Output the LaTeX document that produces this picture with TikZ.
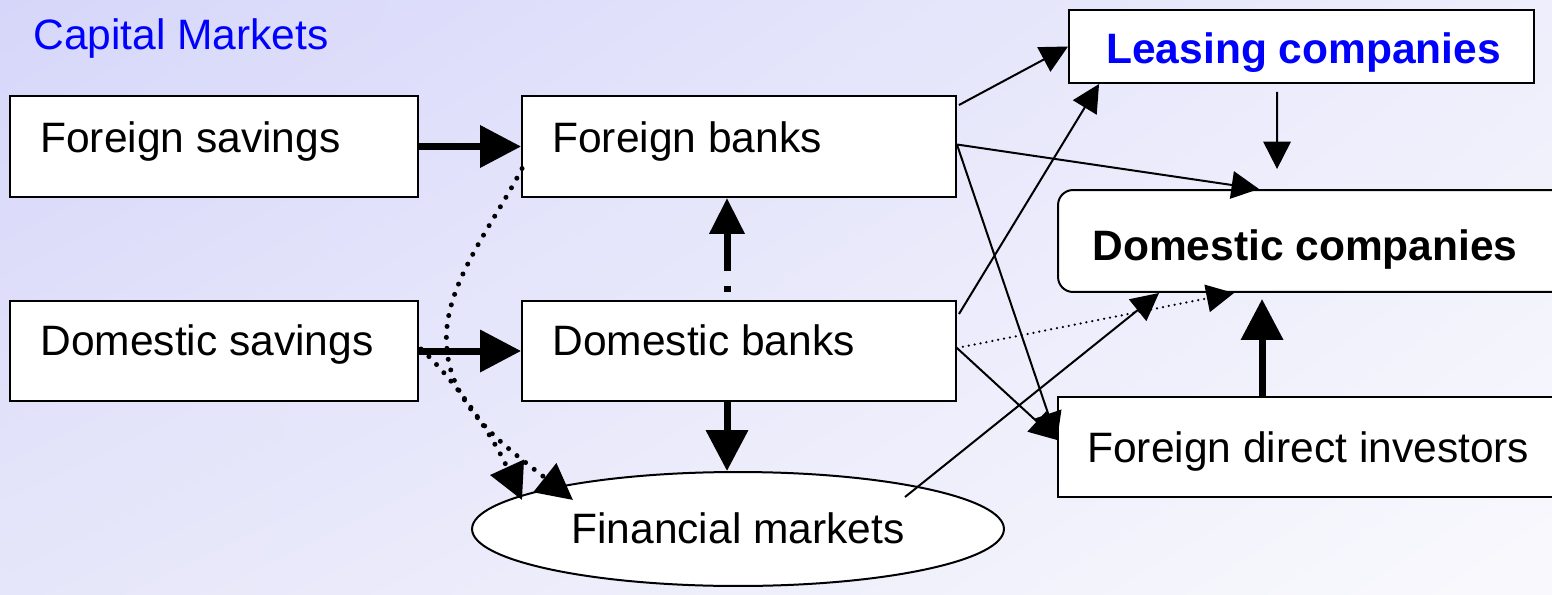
\documentclass[tikz,border=0pt]{standalone}
\usepackage{fontspec}
\setmainfont{Liberation Sans}
\usetikzlibrary{arrows.meta,shapes.geometric,calc,shadings}
\definecolor{bgTL}{RGB}{214,214,250}
\definecolor{bgTR}{RGB}{238,238,252}
\definecolor{bgBL}{RGB}{230,230,250}
\definecolor{bgBR}{RGB}{249,249,253}
\definecolor{pblue}{RGB}{0,0,255}
\tikzset{
  box/.style={draw=black, line width=0.04cm, fill=white, rectangle, inner sep=0pt},
  lbl/.style={anchor=base west, inner sep=0pt, font=\fontsize{24.2}{29}\selectfont},
  thickarrow/.style={line width=0.14cm, -{Triangle[length=0.82cm,width=0.82cm]}},
  dasharrow/.style={line width=0.14cm, dash pattern=on 0cm off 0.16cm on 0.12cm off 0.3cm on 4cm off 0cm, -{Triangle[length=0.72cm,width=0.68cm]}},
  thinarrow/.style={line width=0.04cm, -{Triangle[length=0.55cm,width=0.55cm]}},
  dotarrow/.style={line width=0.1cm, line cap=round, dash pattern=on 0pt off 0.22cm, -{Triangle[length=0.72cm,width=0.72cm]}},
  thindot/.style={line width=0.05cm, line cap=round, dash pattern=on 0pt off 0.12cm, -{Triangle[length=0.55cm,width=0.55cm]}},
}
\begin{document}
\begin{tikzpicture}[x=0.02cm,y=-0.02cm]
\useasboundingbox (0,0) rectangle (1552,595);
\clip (0,0) rectangle (1552,595);
\shade[upper left=bgTL, upper right=bgTR, lower left=bgBL, lower right=bgBR] (0,0) rectangle (1552,595);

% title fragment
\node[lbl, text=pblue] (cm) at (33,50) {Capital Markets};

% boxes
\node[box, minimum width=8.16cm, minimum height=2.02cm] (fs) at (214,146.5) {};
\node[box, minimum width=8.16cm, minimum height=2.0cm] (ds) at (214,351) {};
\node[box, minimum width=8.68cm, minimum height=2.02cm] (fb) at (739,146.5) {};
\node[box, minimum width=8.68cm, minimum height=2.0cm] (db) at (739,351) {};
\node[box, minimum width=9.3cm, minimum height=1.46cm] (lc) at (1301.5,46.5) {};
\node[box, rounded corners=0.3cm, minimum width=11.24cm, minimum height=2.04cm] (dc) at (1339,241) {};
\node[box, minimum width=11.24cm, minimum height=2.0cm] (fdi) at (1339,447) {};
\node[box, ellipse, minimum width=10.64cm, minimum height=2.28cm] (fm) at (738,529) {};

% texts
\node[lbl] (tfs) at (40,152) {Foreign savings};
\node[lbl] (tds) at (40,355) {Domestic savings};
\node[lbl] (tfb) at (552,152) {Foreign banks};
\node[lbl] (tdb) at (552,355) {Domestic banks};
\node[lbl, text=pblue, font=\fontsize{24.2}{29}\selectfont\bfseries] (tlc) at (1106,63) {Leasing companies};
\node[lbl, font=\fontsize{24.2}{29}\selectfont\bfseries] (tdc) at (1092,260) {Domestic companies};
\node[lbl] (tfdi) at (1087,462) {Foreign direct investors};
\node[lbl] (tfm) at (571,543) {Financial markets};

% connectors
\draw[thickarrow] (fs.east) -- (fb.west);
\draw[thickarrow] (ds.east) -- (db.west);
\draw[dasharrow] ($(db.north)+(-12,0)$) -- ($(fb.south)+(-12,0)$);
\draw[thickarrow] ($(db.south)+(-12,0)$) -- ($(fm.north)+(-11,0)$);

\draw[thinarrow] ($(fb.north east)+(2,10)$) -- (lc.west);
\draw[thinarrow] ($(fb.east)+(0,-2)$) -- ($(dc.north west)+(202,0)$);
\draw[thinarrow] ($(fb.east)+(0,-2)$) -- ($(fdi.west)+(0,-7)$);
\draw[thinarrow] ($(db.north east)+(2,14)$) -- ($(lc.south west)+(31,0)$);
\draw[thindot] ($(db.east)+(0,-3)$) -- ($(dc.south west)+(177,0)$);
\draw[thinarrow] ($(db.east)+(0,-3)$) -- ($(fdi.west)+(0,-7)$);
\draw[thinarrow] ($(fm.center)+(167,-32)$) -- ($(dc.south west)+(102,0)$);
\draw[thinarrow] ($(lc.south west)+(209,8)$) -- ($(dc.north west)+(220,-20)$);
\draw[thickarrow] ($(fdi.north west)+(205,0)$) -- ($(dc.south west)+(205,6)$);

\draw[dotarrow] ($(fb.west)+(1,22)$) .. controls (490,230) and (440,290) .. (447,350)
   .. controls (452,410) and (510,450) .. ($(fm.center)+(-165,-29)$);
\draw[dotarrow] ($(ds.east)+(2,-2)$) .. controls (450,375) and (490,430) .. ($(fm.center)+(-216,-29)$);
\end{tikzpicture}
\end{document}
